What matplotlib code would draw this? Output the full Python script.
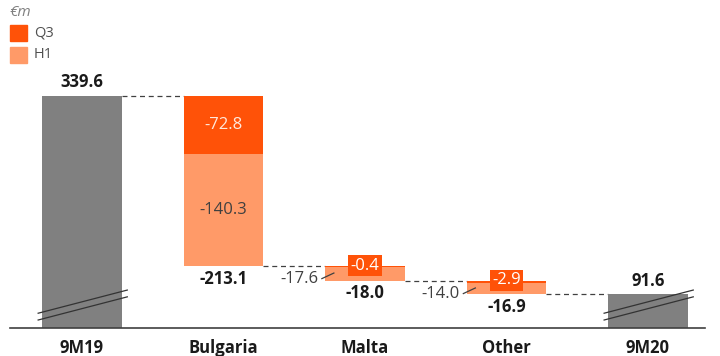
import numpy as np
import matplotlib.pyplot as plt

plt.rcParams['font.family'] = ['Open Sans', 'DejaVu Sans']

# Bridge data (€m)
categories = ["9M19", "Bulgaria", "Malta", "Other", "9M20"]
start_value = 339.6
end_value = 91.6
q3 = [-72.8, -0.4, -2.9]
h1 = [-140.3, -17.6, -14.0]
totals = [-213.1, -18.0, -16.9]

dark_orange = "#FF5208"
light_orange = "#FF9A68"
grey = "#808080"
text_dark = "#1a1a1a"

fig = plt.figure(figsize=(7.2, 3.56), dpi=100)
ax = fig.add_axes([10 / 720, 28 / 356, 695 / 720, 288 / 356])
ymin, ymax = 49.5, 410.0
ax.set_xlim(-0.509, 4.403)
ax.set_ylim(ymin, ymax)
w = 0.56
x = np.arange(len(categories))

# running levels between the bars
levels = [start_value]
for t in totals:
    levels.append(round(levels[-1] + t, 1))

# opening and closing bars (broken axis, bottom clipped)
ax.bar(x[0], start_value, width=w, color=grey, zorder=2)
ax.bar(x[-1], end_value, width=w, color=grey, zorder=2)
ax.text(x[0], start_value + 6, f"{start_value:.1f}", ha="center", va="bottom",
        fontsize=12, fontweight="bold", color=text_dark)
ax.text(x[-1], end_value + 6, f"{end_value:.1f}", ha="center", va="bottom",
        fontsize=12, fontweight="bold", color=text_dark)

# break marks on the grey bars
for xi in (x[0], x[-1]):
    for off in (0, 8.5):
        ax.plot([xi - 0.31, xi + 0.32], [ymin + 10 + off, ymin + 39 + off],
                color="#333333", lw=0.9, zorder=3, clip_on=False)

# movement bars: Q3 on top, H1 below
for i, (a, b, t) in enumerate(zip(q3, h1, totals)):
    xi = x[i + 1]
    top = levels[i]
    ax.bar(xi, a, bottom=top, width=w, color=dark_orange, zorder=2)
    ax.bar(xi, b, bottom=top + a, width=w, color=light_orange, zorder=2)
    bottom = top + a + b
    ax.text(xi, bottom - 4, f"{t:.1f}", ha="center", va="top",
            fontsize=12, fontweight="bold", color=text_dark)
    if abs(a) > 20:
        ax.text(xi, top + a / 2, f"{a:.1f}", ha="center", va="center",
                fontsize=12, color="#FFE9DC")
        ax.text(xi, top + a + b / 2, f"{b:.1f}", ha="center", va="center",
                fontsize=12, color="#404040")
    else:
        ax.text(xi, top + 1, f"{a:.1f}", ha="center", va="center", fontsize=12,
                color="white", zorder=4,
                bbox=dict(boxstyle="square,pad=0.15", fc=dark_orange, ec="none"))
        mid = top + a + b / 2
        ax.plot([xi - w / 2 - 0.025, xi - w / 2 + 0.06], [mid - 6, mid + 1],
                color="#404040", lw=0.9, zorder=4)
        ax.text(xi - w / 2 - 0.05, mid - 6, f"{b:.1f}", ha="right", va="center",
                fontsize=12, color="#404040")

# dashed connectors
for i in range(len(categories) - 1):
    ax.plot([x[i] + w / 2, x[i + 1] - w / 2], [levels[i], levels[i]],
            color="#404040", lw=0.9, ls=(0, (4, 3)), zorder=1)

# baseline and category labels
ax.axhline(ymin, color="#404040", lw=1.2, zorder=4, clip_on=False)
for s in ax.spines.values():
    s.set_visible(False)
ax.set_yticks([])
ax.set_xticks(x)
ax.set_xticklabels(categories, fontsize=12, fontweight="bold", color=text_dark)
ax.tick_params(axis="x", length=0, pad=8)

# unit and legend
fig.text(10 / 720, 1 - 12 / 356, "€m", fontsize=11, style="italic",
         color="#808080", va="center", ha="left")
for j, (lab, c) in enumerate([("Q3", dark_orange), ("H1", light_orange)]):
    yc = 1 - (33 + 22 * j) / 356
    fig.patches.append(plt.Rectangle((10 / 720, yc - 8 / 356), 17 / 720, 16 / 356,
                                     transform=fig.transFigure, color=c))
    fig.text(34 / 720, yc, lab, fontsize=10.5, color="#505050", va="center", ha="left")

fig.savefig("out.png", dpi=100)
